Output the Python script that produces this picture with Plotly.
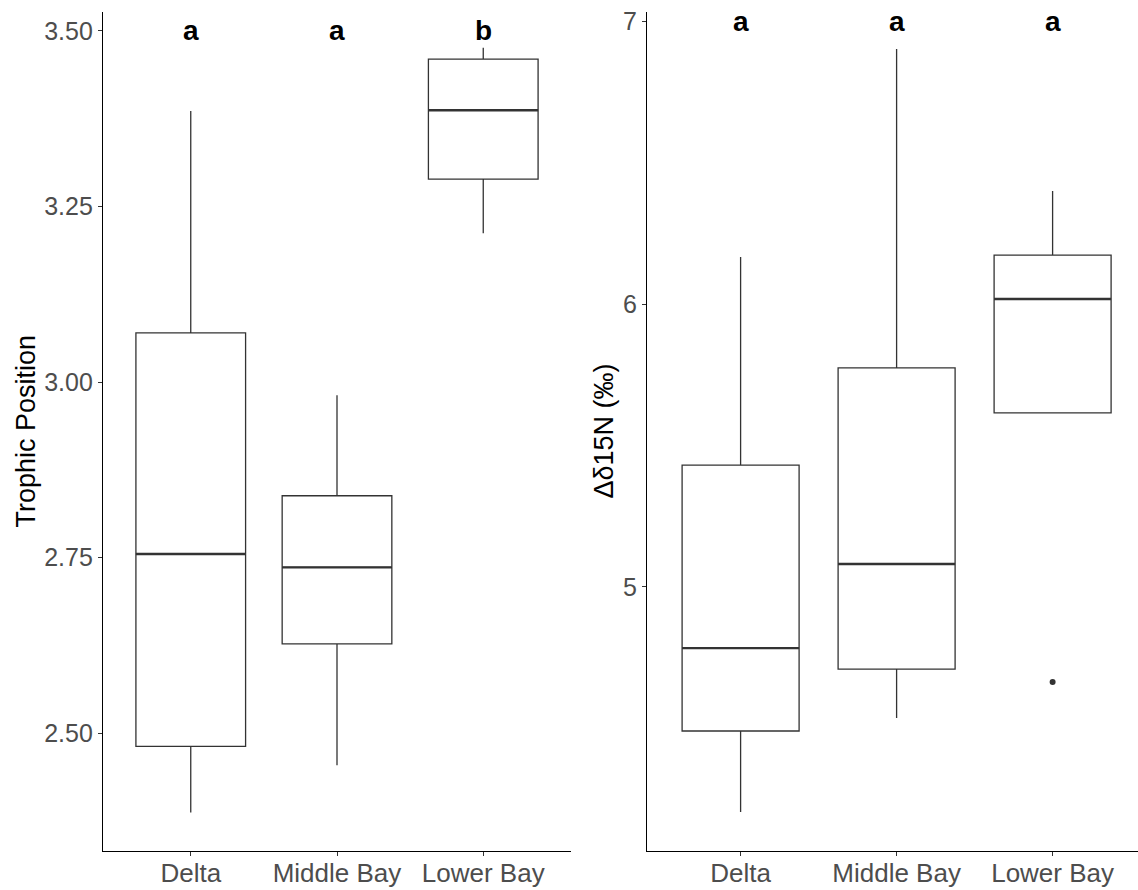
import plotly.graph_objects as go

categories = ["Delta", "Middle Bay", "Lower Bay"]

# Left panel: Trophic Position
tp_low = [2.387, 2.454, 3.212]
tp_q1 = [2.481, 2.627, 3.289]
tp_med = [2.755, 2.736, 3.387]
tp_q3 = [3.070, 2.838, 3.460]
tp_high = [3.386, 2.981, 3.476]
tp_letters = ["a", "a", "b"]
tp_letter_y = 3.5

# Right panel: delta d15N
dn_low = [4.205, 4.537, 5.615]
dn_q1 = [4.491, 4.710, 5.615]
dn_med = [4.784, 5.081, 6.018]
dn_q3 = [5.431, 5.774, 6.173]
dn_high = [6.166, 6.901, 6.399]
dn_outlier_cat = [2]
dn_outlier_y = [4.664]
dn_letters = ["a", "a", "a"]
dn_letter_y = 7.0

W, H = 1138, 890
BOX_W = 0.75
LINE = "#333333"
FONT = "Liberation Sans, Arial, sans-serif"

fig = go.Figure()

def add_panel(low, q1, med, q3, high, xa, ya):
    xs = list(range(len(categories)))
    fig.add_trace(go.Box(
        x=xs, q1=q1, median=med, q3=q3, lowerfence=low, upperfence=high,
        width=BOX_W, whiskerwidth=0, fillcolor="white",
        line=dict(color=LINE, width=1.3), boxpoints=False,
        xaxis=xa, yaxis=ya, showlegend=False, hoverinfo="skip"))
    for i, m in enumerate(med):
        fig.add_trace(go.Scatter(
            x=[i - BOX_W / 2, i + BOX_W / 2], y=[m, m], mode="lines",
            line=dict(color=LINE, width=2.4), xaxis=xa, yaxis=ya,
            showlegend=False, hoverinfo="skip"))

add_panel(tp_low, tp_q1, tp_med, tp_q3, tp_high, "x", "y")
add_panel(dn_low, dn_q1, dn_med, dn_q3, dn_high, "x2", "y2")

fig.add_trace(go.Scatter(
    x=dn_outlier_cat, y=dn_outlier_y, mode="markers",
    marker=dict(color=LINE, size=6), xaxis="x2", yaxis="y2",
    showlegend=False, hoverinfo="skip"))

for i, t in enumerate(tp_letters):
    fig.add_annotation(x=i, y=tp_letter_y, xref="x", yref="y", text=f"<b>{t}</b>",
                       showarrow=False, font=dict(size=28, color="black", family=FONT),
                       xanchor="center", yanchor="middle")
for i, t in enumerate(dn_letters):
    fig.add_annotation(x=i, y=dn_letter_y, xref="x2", yref="y2", text=f"<b>{t}</b>",
                       showarrow=False, font=dict(size=28, color="black", family=FONT),
                       xanchor="center", yanchor="middle")

y_bot = 1 - 851 / H
y_top = 1 - 12 / H

fig.add_annotation(x=25 / W, y=(y_bot + y_top) / 2, xref="paper", yref="paper",
                   text="Trophic Position", textangle=-90, showarrow=False,
                   xanchor="center", yanchor="middle",
                   font=dict(size=27, color="black", family=FONT))
fig.add_annotation(x=603 / W, y=(y_bot + y_top) / 2, xref="paper", yref="paper",
                   text="Δδ15N (‰)", textangle=-90, showarrow=False,
                   xanchor="center", yanchor="middle",
                   font=dict(size=27, color="black", family=FONT))

xcommon = dict(tickvals=[0, 1, 2], ticktext=categories, showline=True, linecolor="black",
               linewidth=1.3, ticks="outside", ticklen=4, tickcolor=LINE, tickwidth=1,
               showgrid=False, zeroline=False, automargin=False, ticklabelstandoff=-5,
               tickfont=dict(size=26, color="#4D4D4D", family=FONT))
ycommon = dict(showline=True, linecolor="black", linewidth=1.3, ticks="outside",
               ticklen=4, tickcolor=LINE, tickwidth=1, showgrid=False, zeroline=False,
               automargin=False,
               tickfont=dict(size=25, color="#4D4D4D", family=FONT))

fig.update_layout(
    width=W, height=H, plot_bgcolor="white", paper_bgcolor="white",
    margin=dict(l=0, r=0, t=0, b=0, autoexpand=False),
    xaxis=dict(domain=[103 / W, 571 / W], range=[-0.6, 2.6], anchor="y", **xcommon),
    yaxis=dict(domain=[y_bot, y_top], range=[2.332, 3.527], anchor="x",
               tickvals=[2.5, 2.75, 3.0, 3.25, 3.5],
               ticktext=["2.50", "2.75", "3.00", "3.25", "3.50"], **ycommon),
    xaxis2=dict(domain=[647 / W, 1.0], range=[-0.6, -0.6 + 491 / 156], anchor="y2", **xcommon),
    yaxis2=dict(domain=[y_bot, y_top], range=[4.067, 7.032], anchor="x2",
                tickvals=[5, 6, 7], ticktext=["5", "6", "7"], **ycommon),
)

fig.write_html("out.html", config={"displayModeBar": False})

with open("out.html", "r", encoding="utf-8") as f:
    html = f.read()
html = html.replace("<head>", "<head><style>html,body{margin:0;padding:0;overflow:hidden;}</style>", 1)
with open("out.html", "w", encoding="utf-8") as f:
    f.write(html)
